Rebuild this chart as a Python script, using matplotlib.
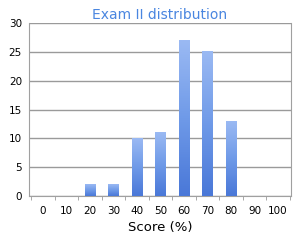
import numpy as np
import matplotlib
matplotlib.use('Agg')
import matplotlib.pyplot as plt
from matplotlib.colors import LinearSegmentedColormap

# exam scores, bins of 10%
scores = ['0', '10', '20', '30', '40', '50', '60', '70', '80', '90', '100']
counts = [0, 0, 2, 2, 10, 11, 27, 25, 13, 0, 0]

fig = plt.figure(figsize=(3.04, 2.40), dpi=100)
ax = fig.add_axes([0.095, 0.183, 0.862, 0.721])

x = np.arange(len(scores))
w = 0.44
bars = ax.bar(x, counts, width=w, color='none', zorder=3)

# blue gradient fill for each bar (lighter at top)
cmap = LinearSegmentedColormap.from_list('bl', ['#4a78d8', '#6f9ae8', '#9ab9f3'])
grad = np.linspace(0, 1, 64).reshape(-1, 1)
for b in bars:
    h = b.get_height()
    if h <= 0:
        continue
    x0 = b.get_x()
    ax.imshow(grad, extent=(x0, x0 + b.get_width(), 0, h), origin='lower',
              cmap=cmap, aspect='auto', zorder=3)

ax.set_xlim(-0.6, len(scores) - 0.45)
ax.set_ylim(0, 30)
ax.set_yticks(range(0, 31, 5))
ax.yaxis.grid(True, color='#9a9a9a', linewidth=1.0, zorder=0)
ax.set_axisbelow(True)

ax.set_xticks(x)
ax.set_xticklabels(scores, fontsize=7.5)
ax.set_xticks(np.arange(-0.5, len(scores), 1.0), minor=True)
ax.tick_params(axis='x', which='major', length=0, pad=7)
ax.tick_params(axis='x', which='minor', length=3, color='#9a9a9a')
ax.tick_params(axis='y', length=0, labelsize=7.5, pad=5)

for s in ['left', 'right', 'bottom']:
    ax.spines[s].set_color('#a0a0a0')
ax.spines['top'].set_visible(False)

ax.set_title('Exam II distribution', fontsize=10, color='#4a86e0', pad=3)
ax.set_xlabel('Score (%)', fontsize=9.5, labelpad=4)

fig.savefig('out.png', dpi=100)
